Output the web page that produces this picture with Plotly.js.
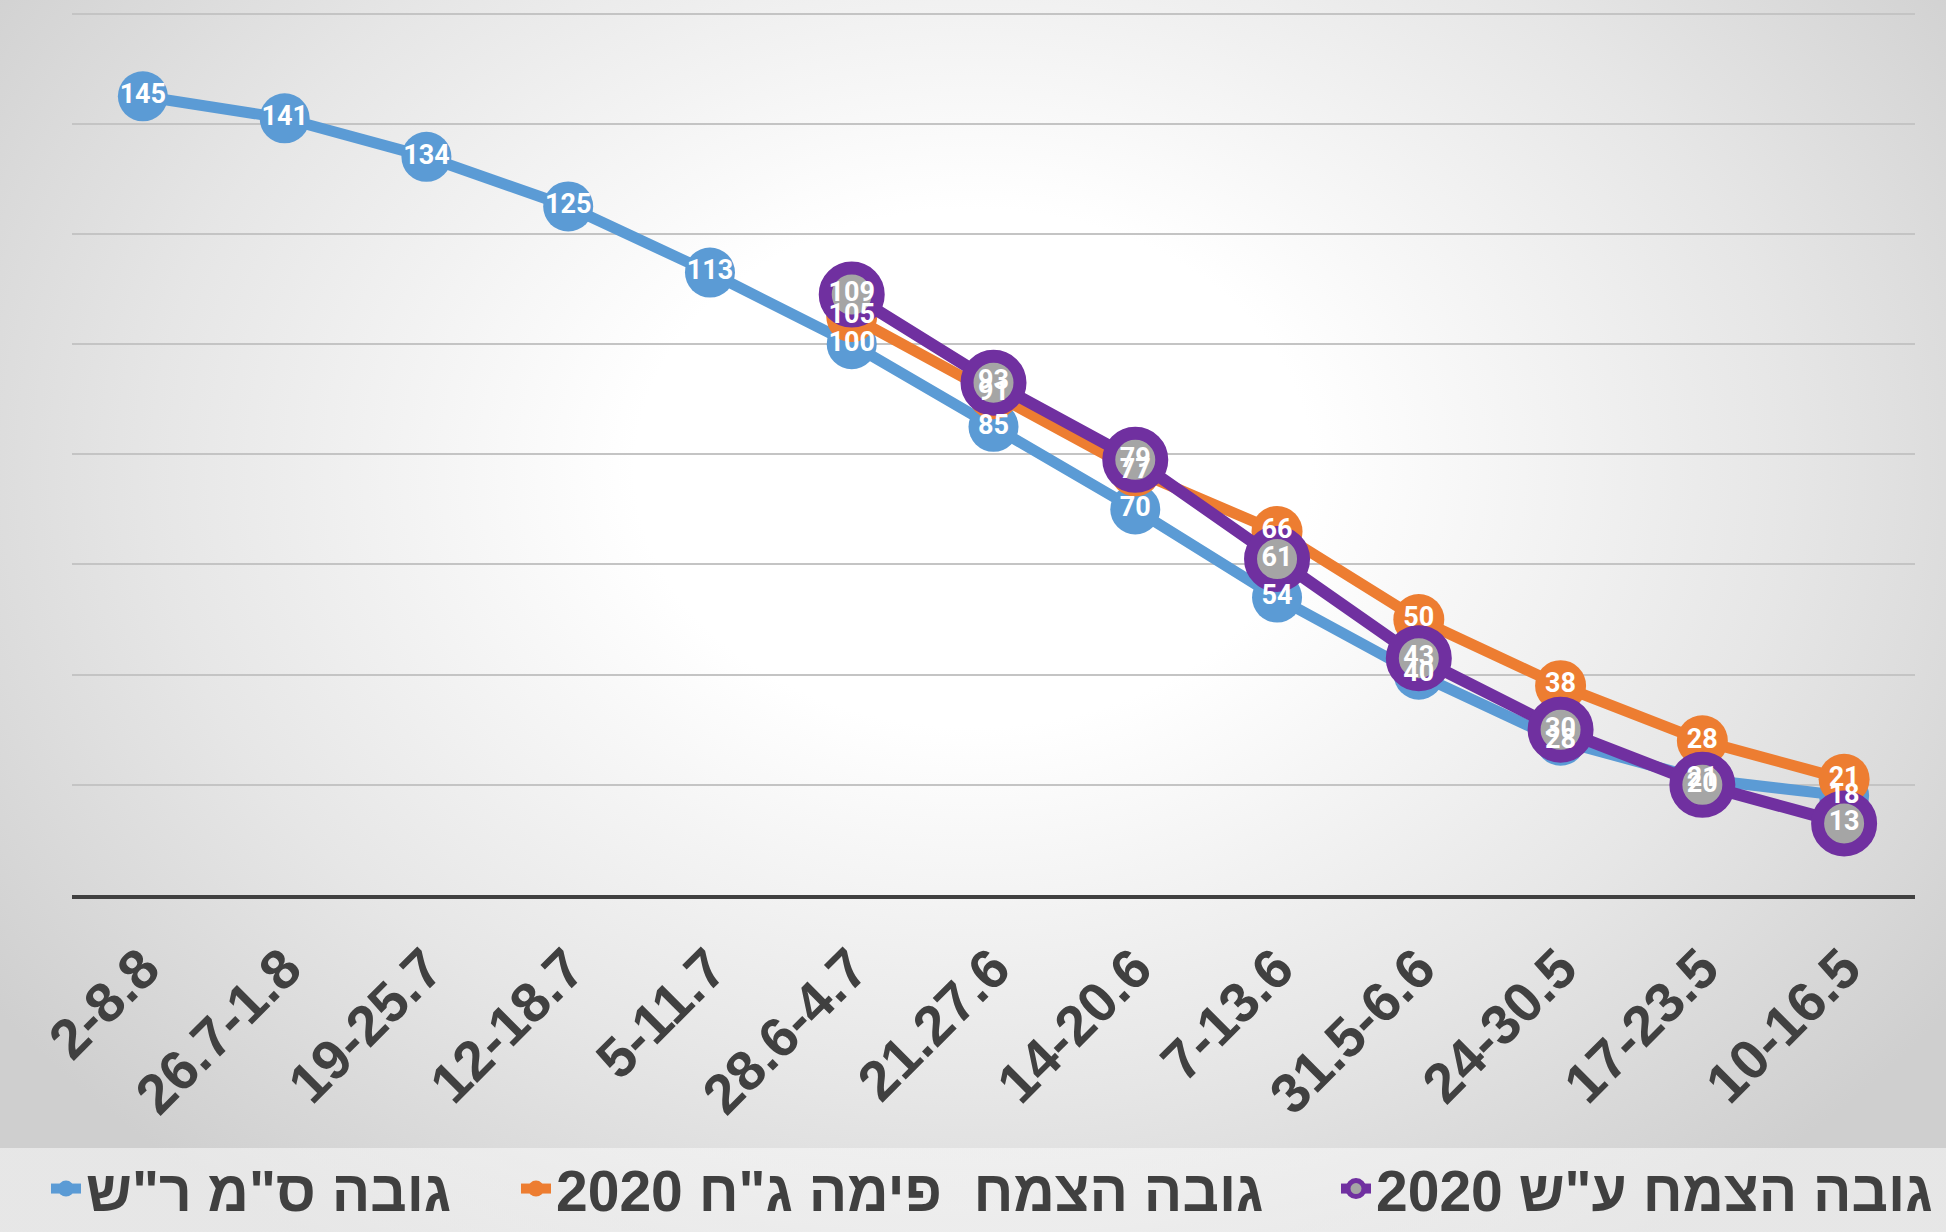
<!DOCTYPE html>
<html><head><meta charset="utf-8">
<script src="https://cdn.plot.ly/plotly-3.0.1.min.js"></script>
<style>
html,body{margin:0;padding:0;width:1946px;height:1232px;overflow:hidden;}
body{background:
  linear-gradient(to bottom, rgba(255,255,255,0) 0px, rgba(255,255,255,0) 1148px, rgba(250,250,250,0.55) 1148px, rgba(250,250,250,0.55) 1232px),
  radial-gradient(ellipse 62% 75% at 50% 38%, #ffffff 0%, #ffffff 28%, #e6e6e6 68%, #cfcfcf 100%);}
#chart{width:1946px;height:1232px;}
</style></head><body><div id="chart"></div>
<script>
const categories = ["2-8.8","26.7-1.8","19-25.7","12-18.7","5-11.7","28.6-4.7","21.27.6","14-20.6","7-13.6","31.5-6.6","24-30.5","17-23.5","10-16.5"];
const heightRS = [145,141,134,125,113,100,85,70,54,40,28,21,18];
const heightPima = [null,null,null,null,null,105,91,77,66,50,38,28,21];
const heightAS = [null,null,null,null,null,109,93,79,61,43,30,20,13];
const seriesNames = ["גובה ס\"מ ר\"ש", "2020 גובה הצמח  פימה ג\"ח", "2020 גובה הצמח ע\"ש"];

const BLUE = "#5B9BD5", ORANGE = "#ED7D31", PURPLE = "#7030A0", GRAY = "#A5A5A5";
const labelFont = {family: "Roboto, Open Sans, sans-serif", size: 27, color: "#ffffff", weight: "bold"};
function txt(arr){ return arr.map(v => v === null ? "" : String(v)); }

const traces = [
  {x: categories, y: heightRS, name: seriesNames[0], legend: "legend", type: "scatter", mode: "lines+markers",
   line: {color: BLUE, width: 11}, marker: {color: BLUE, size: 50}, hoverinfo: "none", cliponaxis: false},
  {x: categories, y: heightPima, name: seriesNames[1], legend: "legend2", type: "scatter", mode: "lines+markers",
   line: {color: ORANGE, width: 11}, marker: {color: ORANGE, size: 51}, hoverinfo: "none", cliponaxis: false},
  {x: categories, y: heightAS, name: seriesNames[2], legend: "legend3", type: "scatter", mode: "lines+markers",
   line: {color: PURPLE, width: 12}, marker: {color: GRAY, size: 53, line: {color: PURPLE, width: 13}}, hoverinfo: "none", cliponaxis: false},
  {x: categories, y: heightRS, text: txt(heightRS), mode: "text", type: "scatter", textposition: "middle center",
   textfont: labelFont, showlegend: false, hoverinfo: "none", cliponaxis: false},
  {x: categories, y: heightPima, text: txt(heightPima), mode: "text", type: "scatter", textposition: "middle center",
   textfont: labelFont, showlegend: false, hoverinfo: "none", cliponaxis: false},
  {x: categories, y: heightAS, text: txt(heightAS), mode: "text", type: "scatter", textposition: "middle center",
   textfont: labelFont, showlegend: false, hoverinfo: "none", cliponaxis: false}
];

const legendFont = {family: "Liberation Sans, Arial, sans-serif", size: 57, color: "#404040", weight: "bold"};
function leg(xpx){
  return {orientation: "h", xref: "container", yref: "container", x: xpx / 1946, xanchor: "left",
    y: 1 - 1189 / 1232, yanchor: "middle", bgcolor: "rgba(0,0,0,0)", font: legendFont};
}

const layout = {
  width: 1946, height: 1232,
  margin: {l: 72, r: 31, t: 12, b: 337, autoexpand: false},
  paper_bgcolor: "rgba(0,0,0,0)", plot_bgcolor: "rgba(0,0,0,0)",
  showlegend: true,
  xaxis: {type: "category", range: [-0.5, 12.5], showgrid: false, zeroline: false, showline: true, linecolor: "#404040", linewidth: 4,
    tickangle: -45, ticks: "", ticklabelstandoff: 14, automargin: false,
    tickfont: {family: "Liberation Sans, Arial, sans-serif", size: 56, color: "#404040", weight: "bold"}},
  yaxis: {range: [0, 160.3], tick0: 0, dtick: 20, showticklabels: false, showgrid: true, gridcolor: "#c4c4c4", gridwidth: 2,
    zeroline: false, showline: false, fixedrange: true, automargin: false},
  legend: leg(46),
  legend2: leg(516),
  legend3: leg(1336)
};

Plotly.newPlot("chart", traces, layout, {displayModeBar: false, staticPlot: true});
</script></body></html>
